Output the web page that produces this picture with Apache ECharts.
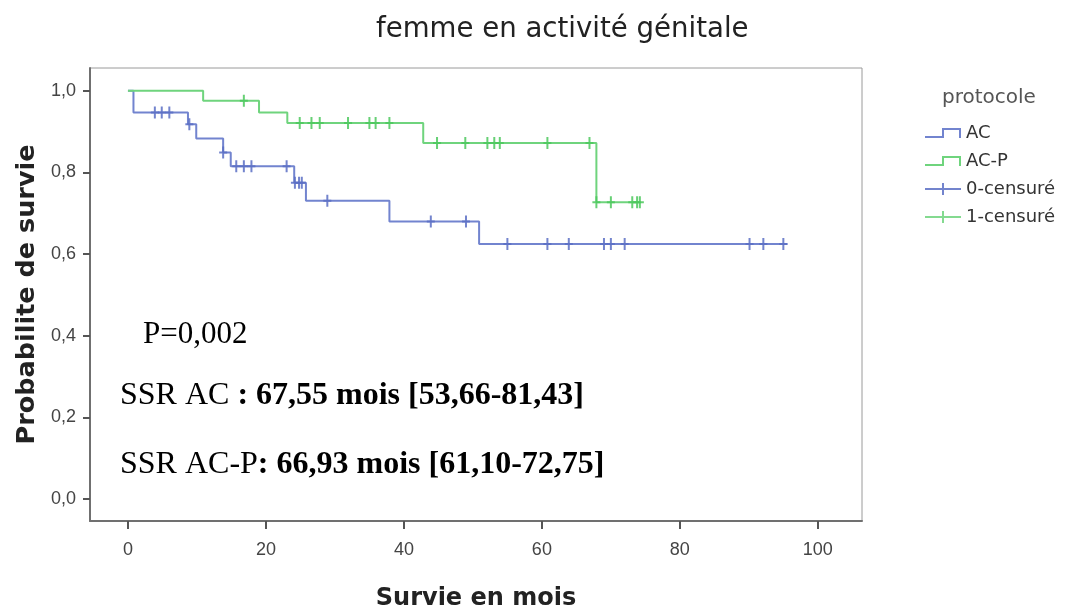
<!DOCTYPE html>
<html>
<head>
<meta charset="utf-8">
<script src="https://cdn.jsdelivr.net/npm/echarts@6/dist/echarts.min.js"></script>
<style>html,body{margin:0;padding:0;background:#fff}#c{width:1069px;height:609px}</style>
</head>
<body>
<div id="c"></div>
<script>
// Kaplan-Meier step curves (time in months, survival probability after each event)
var acTime  = [0, 0.8, 8.7, 9.9, 13.8, 14.9, 24.1, 25.8, 37.9, 50.9, 95.6];
var acSurv  = [1.0, 0.947, 0.918, 0.883, 0.849, 0.815, 0.775, 0.731, 0.680, 0.625, 0.625];
var acpTime = [0, 10.9, 19.0, 23.1, 42.8, 67.9, 74.2];
var acpSurv = [1.0, 0.976, 0.947, 0.921, 0.872, 0.727, 0.727];
// censored observations
var acCensT = [3.9, 4.9, 6.0, 8.9, 13.8, 15.7, 16.8, 17.9, 23.0, 24.2, 24.8, 25.2, 28.9, 43.9, 49.0, 55.0, 60.8, 63.9, 69.0, 70.0, 72.0, 90.1, 92.1, 95.0];
var acCensS = [0.947, 0.947, 0.947, 0.918, 0.849, 0.815, 0.815, 0.815, 0.815, 0.775, 0.775, 0.775, 0.731, 0.680, 0.680, 0.625, 0.625, 0.625, 0.625, 0.625, 0.625, 0.625, 0.625, 0.625];
var acpCensT = [16.8, 24.9, 26.6, 27.8, 31.9, 35.0, 35.9, 37.9, 44.8, 48.9, 52.1, 53.1, 53.9, 60.8, 66.9, 67.9, 70.0, 73.1, 73.8, 74.2];
var acpCensS = [0.976, 0.921, 0.921, 0.921, 0.921, 0.921, 0.921, 0.921, 0.872, 0.872, 0.872, 0.872, 0.872, 0.872, 0.872, 0.727, 0.727, 0.727, 0.727, 0.727];
var xTicks = [0, 20, 40, 60, 80, 100];
var yTicks = [0, 0.2, 0.4, 0.6, 0.8, 1.0];
var seriesNames = ['AC', 'AC-P', '0-censuré', '1-censuré'];
var titleText = 'femme en activité génitale';
var pText = 'P=0,002';
var ssrAC = ['SSR AC ', ': 67,55 mois [53,66-81,43]'];
var ssrACP = ['SSR AC-P', ': 66,93 mois [61,10-72,75]'];

function zip(a, b) { return a.map(function (v, i) { return [v, b[i]]; }); }

var blueLine = '#7284cf', blueMark = '#5b6ec4';
var greenLine = '#6fd47d', greenMark = '#4cc85d';
var stepIcon = 'path://M0,9 L17,9 L17,1 L36,1 L36,11 L34,11 L34,3 L19,3 L19,11 L0,11 Z';
var plusIcon = 'path://M0,5 L17,5 L17,0 L19,0 L19,5 L36,5 L36,7 L19,7 L19,12 L17,12 L17,7 L0,7 Z';
var censSym = 'path://M0,5 L3,5 L3,0 L5,0 L5,5 L8,5 L8,7 L5,7 L5,12 L3,12 L3,7 L0,7 Z';

var serifN = { font: '32px "Liberation Serif"', fill: '#000' };
var serifB = { font: 'bold 32px "Liberation Serif"', fill: '#000' };

var chart = echarts.init(document.getElementById('c'));
chart.setOption({
  animation: false,
  backgroundColor: '#fff',
  title: {
    text: titleText, left: 371, top: 11,
    textStyle: { fontFamily: 'DejaVu Sans', fontSize: 27.6, fontWeight: 'normal', color: '#222' }
  },
  grid: { left: 90, right: 207, top: 68, bottom: 88, show: true, borderColor: '#9a9a9a', borderWidth: 1,
    outerBoundsMode: 'none', containLabel: false },
  legend: {
    orient: 'vertical', left: 925, top: 124, padding: 0, itemWidth: 36, itemHeight: 12, itemGap: 10,
    textStyle: { fontFamily: 'DejaVu Sans', fontSize: 18, color: '#333', lineHeight: 18 },
    data: [
      { name: seriesNames[0], icon: stepIcon, itemStyle: { color: blueLine } },
      { name: seriesNames[1], icon: stepIcon, itemStyle: { color: greenLine } },
      { name: seriesNames[2], icon: plusIcon, itemStyle: { color: blueMark } },
      { name: seriesNames[3], icon: plusIcon, itemStyle: { color: greenLine } }
    ],
    selectedMode: false
  },
  graphic: [
    { type: 'text', left: 942, top: 88, style: { text: 'protocole', font: '20px "DejaVu Sans"', fill: '#555' } },
    { type: 'text', left: 143, top: 319, style: { text: pText, font: '31px "Liberation Serif"', fill: '#000' } },
    { type: 'text', left: 120, top: 380, style: {
        text: '{n|' + ssrAC[0] + '}{b|' + ssrAC[1] + '}', rich: { n: serifN, b: serifB } } },
    { type: 'text', left: 120, top: 449, style: {
        text: '{n|' + ssrACP[0] + '}{b|' + ssrACP[1] + '}', rich: { n: serifN, b: serifB } } }
  ],
  xAxis: {
    type: 'value', min: -5.5, max: 106.4,
    name: 'Survie en mois', nameLocation: 'middle', nameGap: 66,
    nameTextStyle: { fontFamily: 'DejaVu Sans', fontSize: 24, fontWeight: 'bold', color: '#222' },
    axisLine: { show: true, onZero: false, lineStyle: { color: '#707070', width: 2 } },
    axisTick: { show: true, length: 8, lineStyle: { color: '#555', width: 2 }, customValues: xTicks },
    axisLabel: { customValues: xTicks, margin: 20, fontFamily: 'Liberation Sans', fontSize: 18, color: '#444' },
    splitLine: { show: false }
  },
  yAxis: {
    type: 'value', min: -0.054, max: 1.056,
    name: 'Probabilite de survie', nameLocation: 'middle', nameGap: 46, nameRotate: 90,
    nameTextStyle: { fontFamily: 'DejaVu Sans', fontSize: 25.5, fontWeight: 'bold', color: '#222' },
    axisLine: { show: true, onZero: false, lineStyle: { color: '#707070', width: 2 } },
    axisTick: { show: true, length: 7, lineStyle: { color: '#555', width: 2 }, customValues: yTicks },
    axisLabel: { customValues: yTicks, margin: 14, fontFamily: 'Liberation Sans', fontSize: 18, color: '#444',
      formatter: function (v) { return v.toFixed(1).replace('.', ','); } },
    splitLine: { show: false }
  },
  series: [
    { name: seriesNames[0], type: 'line', step: 'end', showSymbol: false, data: zip(acTime, acSurv),
      itemStyle: { color: blueLine }, lineStyle: { color: blueLine, width: 2 }, z: 2 },
    { name: seriesNames[1], type: 'line', step: 'end', showSymbol: false, data: zip(acpTime, acpSurv),
      itemStyle: { color: greenLine }, lineStyle: { color: greenLine, width: 2 }, z: 2 },
    { name: seriesNames[2], type: 'scatter', symbol: censSym, symbolSize: [8, 12], data: zip(acCensT, acCensS),
      itemStyle: { color: blueMark, opacity: 0.85 }, z: 3 },
    { name: seriesNames[3], type: 'scatter', symbol: censSym, symbolSize: [8, 12], data: zip(acpCensT, acpCensS),
      itemStyle: { color: greenMark, opacity: 0.85 }, z: 3 }
  ]
});
</script>
</body>
</html>
